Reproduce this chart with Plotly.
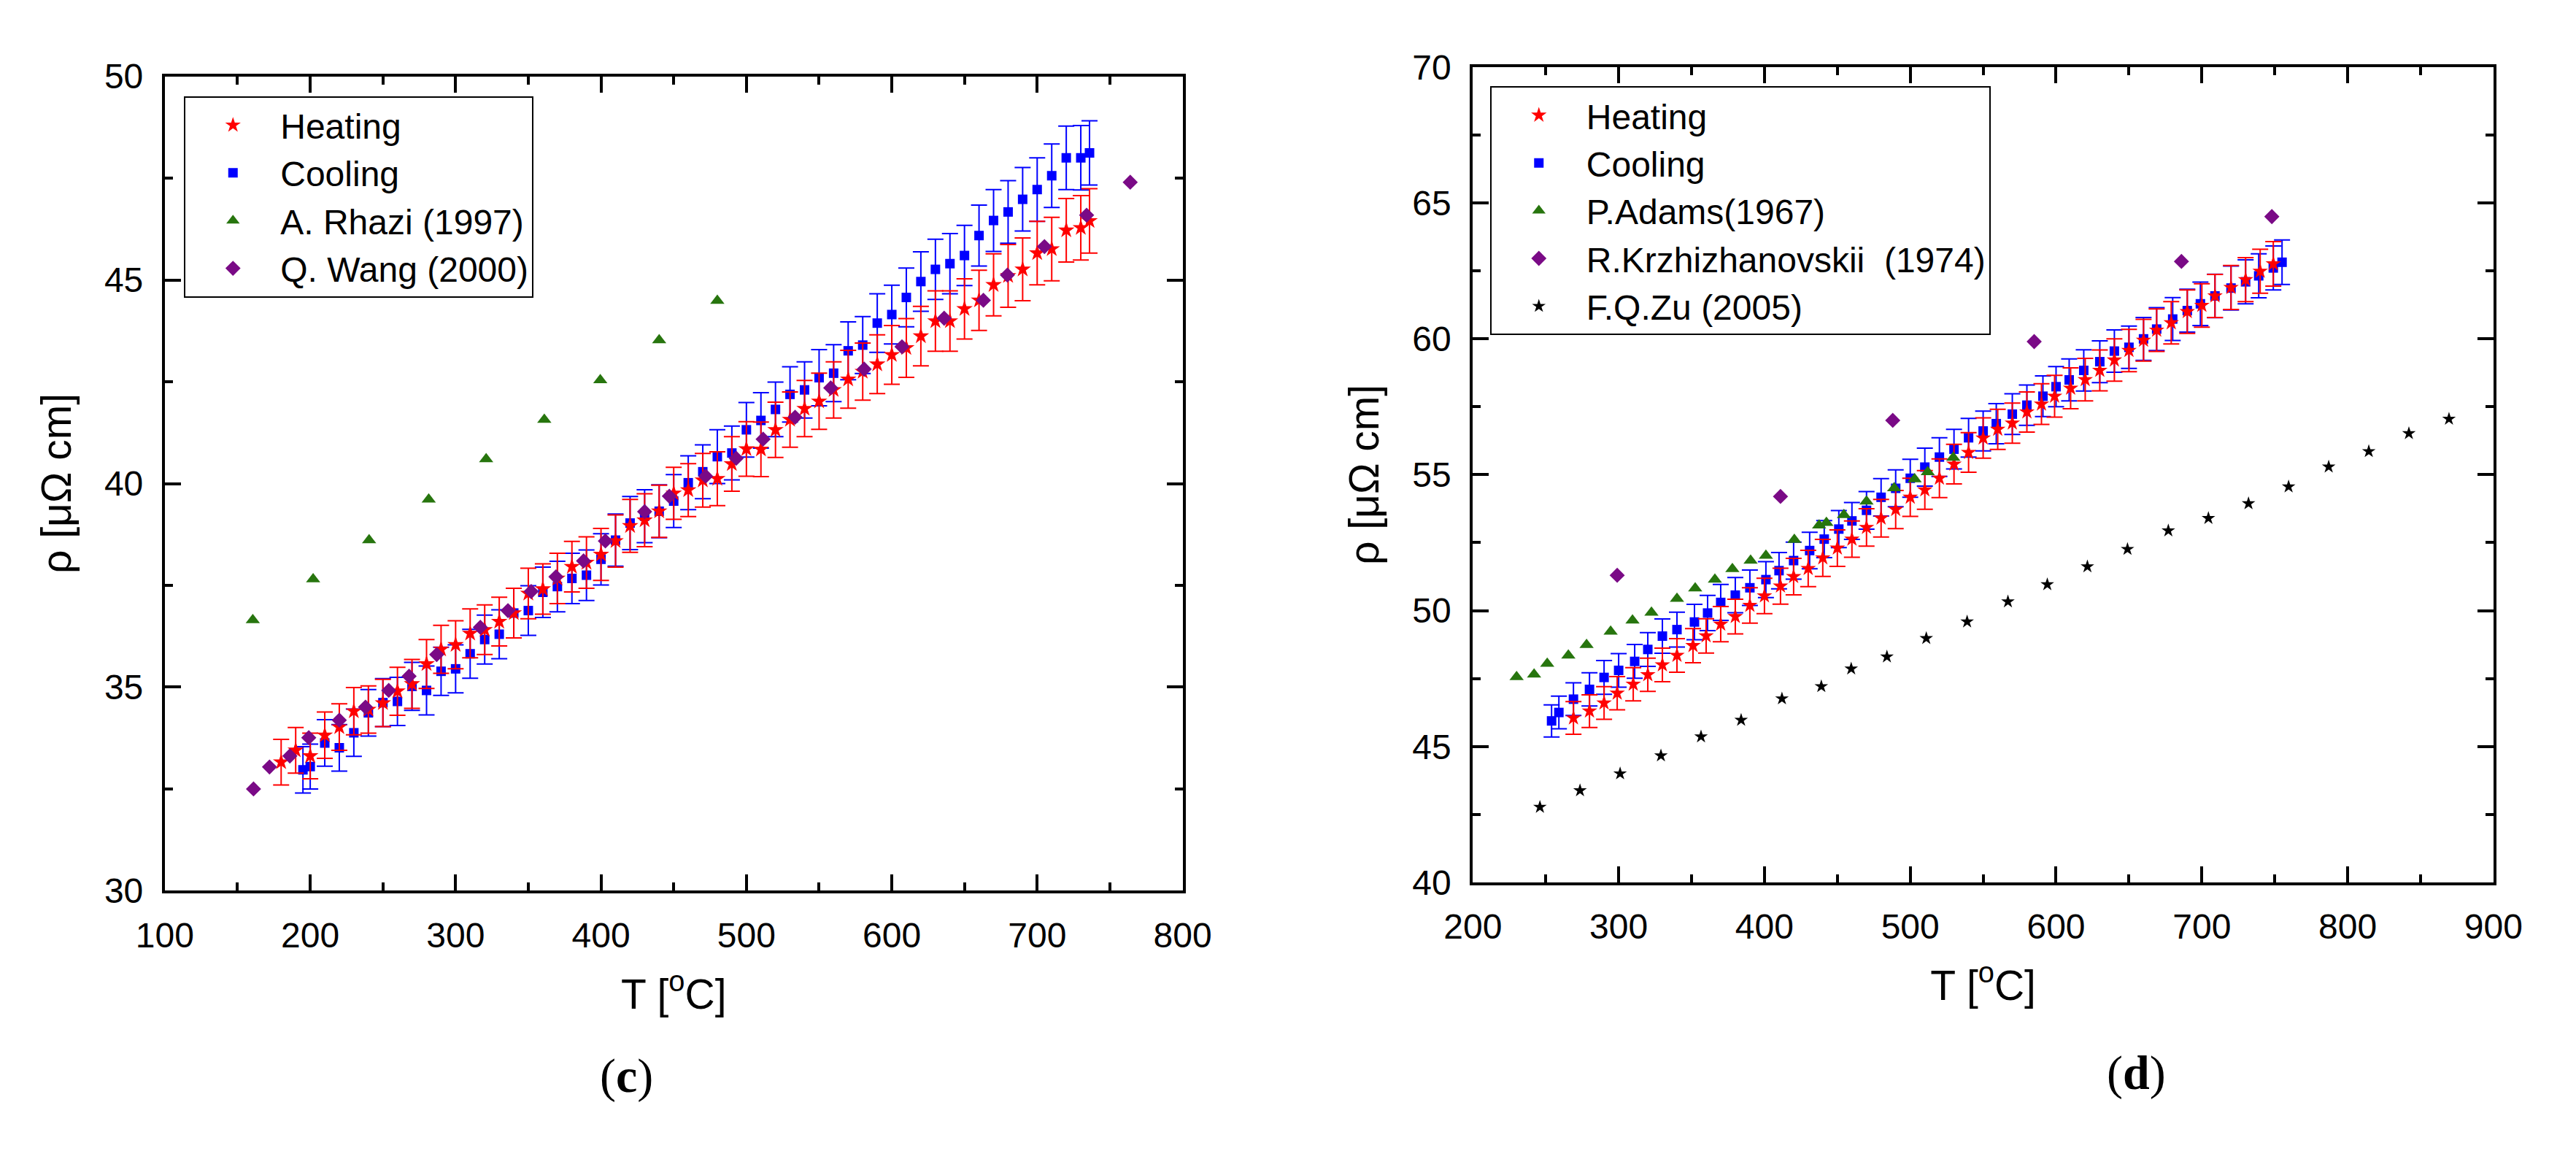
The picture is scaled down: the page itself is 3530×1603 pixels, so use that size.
import plotly.graph_objects as go

# ---------------------------------------------------------------------------
# DATA
# ---------------------------------------------------------------------------

# panel (c)
C_HEAT_T = [180, 190, 200, 210, 220, 230, 240, 250, 260, 270, 280, 290, 300, 310,
            320, 330, 340, 350, 360, 370, 380, 390, 400, 410, 420, 430, 440, 450,
            460, 470, 480, 490, 500, 510, 520, 530, 540, 550, 560, 570, 580, 590,
            600, 610, 620, 630, 640, 650, 660, 670, 680, 690, 700, 710, 720, 730, 736]
C_HEAT_RHO = [33.16, 33.45, 33.31, 33.82, 34.02, 34.41, 34.45, 34.61, 34.90, 35.08,
              35.57, 35.93, 36.04, 36.32, 36.41, 36.61, 36.82, 37.30, 37.41, 37.67,
              37.96, 38.06, 38.26, 38.59, 38.96, 39.10, 39.32, 39.76, 39.84, 40.08,
              40.12, 40.48, 40.85, 40.84, 41.32, 41.57, 41.84, 42.02, 42.30, 42.56,
              42.75, 42.93, 43.16, 43.33, 43.62, 43.99, 43.99, 44.29, 44.50, 44.88,
              45.10, 45.26, 45.66, 45.76, 46.22, 46.28, 46.45]
C_HEAT_ERR = [0.56, 0.56, 0.56, 0.57, 0.57, 0.58, 0.58, 0.58, 0.59, 0.60, 0.60, 0.59,
              0.59, 0.60, 0.61, 0.60, 0.61, 0.62, 0.62, 0.62, 0.62, 0.63, 0.64, 0.64,
              0.65, 0.65, 0.64, 0.64, 0.65, 0.66, 0.66, 0.67, 0.67, 0.67, 0.68, 0.68,
              0.69, 0.69, 0.69, 0.71, 0.70, 0.72, 0.72, 0.72, 0.73, 0.74, 0.74, 0.74,
              0.74, 0.76, 0.77, 0.77, 0.78, 0.78, 0.78, 0.79, 0.79]

C_COOL_T = [195, 200, 210, 220, 230, 240, 250, 260, 270, 280, 290, 300, 310, 320,
            330, 340, 350, 360, 370, 380, 390, 400, 410, 420, 430, 440, 450, 460,
            470, 480, 490, 500, 510, 520, 530, 540, 550, 560, 570, 580, 590, 600,
            610, 620, 630, 640, 650, 660, 670, 680, 690, 700, 710, 720, 730, 736]
C_COOL_RHO = [32.97, 33.05, 33.63, 33.51, 33.88, 34.37, 34.62, 34.65, 35.02, 34.92,
              35.39, 35.45, 35.82, 36.17, 36.30, 36.82, 36.88, 37.33, 37.47, 37.67,
              37.75, 38.14, 38.61, 39.03, 39.20, 39.32, 39.57, 40.02, 40.29, 40.66,
              40.75, 41.32, 41.55, 41.82, 42.19, 42.30, 42.60, 42.71, 43.26, 43.40,
              43.94, 44.15, 44.57, 44.96, 45.26, 45.40, 45.60, 46.09, 46.46, 46.67,
              46.98, 47.22, 47.56, 48.00, 48.00, 48.12]
C_COOL_ERR = [0.57, 0.55, 0.57, 0.57, 0.58, 0.57, 0.59, 0.59, 0.59, 0.60, 0.59, 0.59,
              0.60, 0.60, 0.60, 0.61, 0.61, 0.62, 0.62, 0.62, 0.62, 0.63, 0.64, 0.65,
              0.65, 0.65, 0.65, 0.66, 0.66, 0.66, 0.66, 0.67, 0.68, 0.67, 0.68, 0.69,
              0.69, 0.70, 0.71, 0.70, 0.72, 0.72, 0.72, 0.73, 0.74, 0.74, 0.74, 0.75,
              0.76, 0.77, 0.78, 0.78, 0.78, 0.78, 0.79, 0.79]

RHAZI_T = [160.5, 202, 240.5, 281.5, 321, 361, 399.5, 440, 480]
RHAZI_RHO = [36.65, 37.65, 38.61, 39.61, 40.60, 41.57, 42.54, 43.52, 44.49]

WANG_T = [161, 172, 186, 199, 220, 238, 254, 268, 287, 317, 336, 352, 369, 388, 403,
          430, 447, 472, 493, 511.5, 533.5, 558, 581, 607, 636, 663, 679.5, 705, 734, 764]
WANG_RHO = [32.50, 33.04, 33.31, 33.76, 34.19, 34.51, 34.92, 35.27, 35.80, 36.47,
            36.88, 37.35, 37.71, 38.10, 38.59, 39.31, 39.69, 40.18, 40.62, 41.09,
            41.63, 42.35, 42.81, 43.36, 44.06, 44.50, 45.12, 45.82, 46.59, 47.40]

# panel (d)
D_HEAT_T = [269, 280, 290, 299, 310, 320, 330, 340, 351, 360, 370, 380, 390, 400, 411,
            420, 430, 440, 450, 460, 470, 480, 490, 500, 510, 520, 530, 540, 550, 560,
            570, 580, 590, 599, 610, 620, 630, 640, 650, 660, 669, 679, 690, 700, 709,
            720, 730, 740, 749]
D_HEAT_RHO = [46.05, 46.30, 46.60, 46.96, 47.29, 47.64, 48.00, 48.35, 48.71, 49.07,
              49.50, 49.78, 50.19, 50.54, 50.90, 51.25, 51.55, 51.94, 52.30, 52.63,
              53.06, 53.40, 53.72, 54.17, 54.44, 54.87, 55.39, 55.82, 56.35, 56.67,
              56.90, 57.31, 57.60, 57.89, 58.18, 58.50, 58.84, 59.22, 59.57, 59.95,
              60.32, 60.59, 61.00, 61.23, 61.58, 61.89, 62.18, 62.49, 62.76]
D_HEAT_ERR = [0.60, 0.60, 0.60, 0.61, 0.61, 0.61, 0.62, 0.62, 0.63, 0.63, 0.65, 0.64,
              0.65, 0.65, 0.66, 0.67, 0.67, 0.68, 0.67, 0.67, 0.69, 0.69, 0.70, 0.70,
              0.71, 0.71, 0.73, 0.73, 0.74, 0.74, 0.74, 0.74, 0.75, 0.77, 0.75, 0.78,
              0.75, 0.78, 0.78, 0.77, 0.78, 0.78, 0.80, 0.80, 0.79, 0.81, 0.81, 0.81, 0.82]

D_COOL_T = [254, 259, 269, 280, 290, 300, 311, 320, 330, 340, 352, 361, 370, 380, 390,
            401, 410, 420, 431, 441, 451, 460, 470, 480, 490, 500, 510, 520, 530, 540,
            550, 559, 570, 580, 591, 600, 609, 619, 630, 640, 650, 660, 669, 680, 690,
            699, 709, 720, 730, 739, 749, 755]
D_COOL_RHO = [45.94, 46.25, 46.74, 47.10, 47.54, 47.80, 48.13, 48.57, 49.06, 49.30,
              49.58, 49.91, 50.30, 50.57, 50.84, 51.14, 51.47, 51.84, 52.21, 52.63,
              53.00, 53.30, 53.69, 54.17, 54.50, 54.87, 55.28, 55.65, 55.94, 56.36,
              56.61, 56.88, 57.23, 57.56, 57.89, 58.24, 58.49, 58.84, 59.16, 59.55,
              59.69, 60.00, 60.36, 60.73, 61.04, 61.29, 61.58, 61.87, 62.10, 62.32,
              62.61, 62.82]
D_COOL_ERR = [0.59, 0.60, 0.60, 0.61, 0.62, 0.62, 0.62, 0.62, 0.63, 0.64, 0.65, 0.65,
              0.66, 0.65, 0.65, 0.66, 0.67, 0.68, 0.67, 0.68, 0.68, 0.68, 0.69, 0.69,
              0.68, 0.70, 0.70, 0.71, 0.73, 0.71, 0.73, 0.74, 0.75, 0.74, 0.75, 0.74,
              0.77, 0.76, 0.77, 0.78, 0.78, 0.79, 0.79, 0.79, 0.79, 0.80, 0.80, 0.81,
              0.81, 0.81, 0.81, 0.82]

ADAMS_T = [230, 242, 251, 265.5, 278, 294.5, 309.5, 322.5, 340, 352.5, 366, 378, 390.5,
           401, 420.5, 437.5, 442.5, 454.5, 470, 489, 503, 512, 529.5]
ADAMS_RHO = [47.56, 47.65, 48.05, 48.35, 48.74, 49.23, 49.64, 49.93, 50.44, 50.82,
             51.14, 51.53, 51.84, 52.02, 52.61, 53.14, 53.23, 53.52, 54.02, 54.51,
             54.84, 55.10, 55.63]

KRZ_T = [299, 411, 488, 585, 686, 748]
KRZ_RHO = [51.3, 54.2, 57.0, 59.9, 62.85, 64.5]

ZU_T = [246, 273.5, 301, 329, 356.5, 384, 412, 439, 459.5, 484, 511, 539, 567, 594,
        621.5, 649, 677, 704.5, 732, 759.5, 787, 814.5, 842, 869.5]
ZU_RHO = [42.77, 43.38, 44.00, 44.66, 45.36, 45.97, 46.76, 47.21, 47.86, 48.30,
          48.98, 49.59, 50.33, 50.96, 51.62, 52.26, 52.94, 53.40, 53.94, 54.56,
          55.29, 55.86, 56.52, 57.05]

# ---------------------------------------------------------------------------
# STYLE
# ---------------------------------------------------------------------------

FONT = 'Liberation Sans, Arial, sans-serif'
RED = '#ff0000'
BLUE = '#0000ff'
GREEN = '#27750e'
PURPLE = '#7a0a86'

W, H = 3530, 1603


def err_trace(x, y, err, name, symbol, color, size, axes, legend, rank):
    return go.Scatter(
        x=x, y=y, mode='markers', name=name,
        marker=dict(symbol=symbol, color=color, size=size, line=dict(width=0)),
        error_y=dict(type='data', array=err, visible=True, color=color,
                     thickness=2, width=11),
        xaxis=axes[0], yaxis=axes[1], legend=legend, legendrank=rank,
    )


def pt_trace(x, y, name, symbol, color, size, axes, legend, rank):
    return go.Scatter(
        x=x, y=y, mode='markers', name=name,
        marker=dict(symbol=symbol, color=color, size=size, line=dict(width=0)),
        xaxis=axes[0], yaxis=axes[1], legend=legend, legendrank=rank,
    )


fig = go.Figure()

# (c)
fig.add_trace(err_trace(C_COOL_T, C_COOL_RHO, C_COOL_ERR, 'Cooling', 'square', BLUE, 13,
                        ('x', 'y'), 'legend', 2))
fig.add_trace(err_trace(C_HEAT_T, C_HEAT_RHO, C_HEAT_ERR, 'Heating', 'star', RED, 17,
                        ('x', 'y'), 'legend', 1))
fig.add_trace(pt_trace(RHAZI_T, RHAZI_RHO, 'A. Rhazi (1997)', 'triangle-up', GREEN, 17,
                       ('x', 'y'), 'legend', 3))
fig.add_trace(pt_trace(WANG_T, WANG_RHO, 'Q. Wang (2000)', 'diamond', PURPLE, 16,
                       ('x', 'y'), 'legend', 4))

# (d)
fig.add_trace(err_trace(D_COOL_T, D_COOL_RHO, D_COOL_ERR, 'Cooling', 'square', BLUE, 13,
                        ('x2', 'y2'), 'legend2', 2))
fig.add_trace(err_trace(D_HEAT_T, D_HEAT_RHO, D_HEAT_ERR, 'Heating', 'star', RED, 16,
                        ('x2', 'y2'), 'legend2', 1))
fig.add_trace(pt_trace(ADAMS_T, ADAMS_RHO, 'P.Adams(1967)', 'triangle-up', GREEN, 17,
                       ('x2', 'y2'), 'legend2', 3))
fig.add_trace(pt_trace(KRZ_T, KRZ_RHO, 'R.Krzhizhanovskii  (1974)', 'diamond', PURPLE, 16,
                       ('x2', 'y2'), 'legend2', 4))
fig.add_trace(pt_trace(ZU_T, ZU_RHO, 'F.Q.Zu (2005)', 'star', 'black', 14,
                       ('x2', 'y2'), 'legend2', 5))


def axis(domain, rng, dtick, minor_dtick, title, standoff, anchor):
    return dict(
        domain=domain, range=rng, anchor=anchor,
        dtick=dtick, tick0=rng[0],
        showline=True, linecolor='black', linewidth=4, mirror='allticks',
        ticks='inside', ticklen=22, tickwidth=4, tickcolor='black',
        minor=dict(dtick=minor_dtick, ticks='inside', ticklen=11, tickwidth=4,
                   tickcolor='black'),
        showgrid=False, zeroline=False,
        tickfont=dict(family=FONT, size=48, color='black'),
        ticklabelstandoff=16,
        title=dict(text=title, font=dict(family=FONT, size=57, color='black'),
                   standoff=standoff),
    )


XT = 'T [<sup>o</sup>C]'
YT = 'ρ [μΩ cm]'

legend_style = dict(
    font=dict(family=FONT, size=48, color='black'),
    bgcolor='white', bordercolor='black', borderwidth=2,
    xanchor='left', yanchor='top', itemwidth=120, tracegroupgap=0,
    traceorder='normal',
)

fig.update_layout(
    width=W, height=H, autosize=False,
    margin=dict(l=0, r=0, t=0, b=0),
    paper_bgcolor='white', plot_bgcolor='white',
    showlegend=True,
    xaxis=axis([182 / W, 1609 / W], [100, 800], 100, 50, XT, 36, 'y'),
    yaxis=axis([1 - 1227 / H, 1 - 73 / H], [30, 50], 5, 2.5, YT, 28, 'x'),
    xaxis2=axis([2016 / W, 3447 / W], [200, 900], 100, 50, XT, 36, 'y2'),
    yaxis2=axis([1 - 1215 / H, 1 - 60 / H], [40, 70], 5, 2.5, YT, 28, 'x2'),
    legend=dict(x=209 / W, y=1 - 101 / H, **legend_style),
    legend2=dict(x=2040 / W, y=1 - 87 / H, **legend_style),
    annotations=[
        dict(text='(<b>c</b>)', x=790 / W, y=1 - 1530 / H, xref='paper', yref='paper',
             showarrow=False, font=dict(family='Liberation Serif, serif', size=66,
                                        color='black')),
        dict(text='(<b>d</b>)', x=2990 / W, y=1 - 1525 / H, xref='paper', yref='paper',
             showarrow=False, font=dict(family='Liberation Serif, serif', size=66,
                                        color='black')),
    ],
)

fig.write_html('out.html')
